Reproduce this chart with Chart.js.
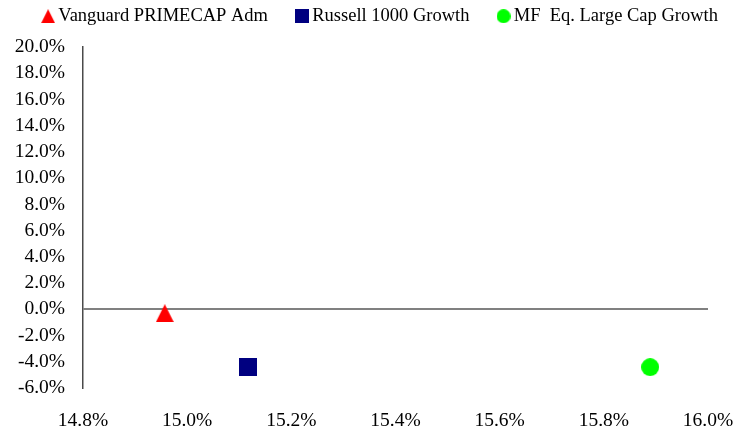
<!DOCTYPE html>
<html>
<head>
<meta charset="utf-8">
<script src="https://cdn.jsdelivr.net/npm/chart.js@4/dist/chart.umd.min.js"></script>
<style>
  html, body { margin: 0; padding: 0; background: #ffffff; }
  #wrap { width: 752px; height: 430px; }
</style>
</head>
<body>
<div id="wrap"><canvas id="chart" width="752" height="430"></canvas></div>
<script>
// Risk (x, %) versus return (y, %) for each fund / benchmark
const seriesNames = ['Vanguard PRIMECAP Adm', 'Russell 1000 Growth', 'MF  Eq. Large Cap Growth'];
const riskValues = [14.957, 15.117, 15.889];
const returnValues = [-0.3, -4.37, -4.41];
const seriesColors = ['#ff0000', '#000080', '#00ff00'];
const markerShapes = ['triangle', 'square', 'circle'];

// axis ranges: [min, max, step]
const xRange = [14.8, 16.0, 0.2];
const yRange = [-6, 20, 2];

const FONT = 'Liberation Serif, Times New Roman, serif';

// Build a marker sprite of a given size
function makeMarker(shape, color, size) {
  const c = document.createElement('canvas');
  c.width = size; c.height = size;
  const g = c.getContext('2d');
  g.fillStyle = color;
  g.beginPath();
  if (shape === 'triangle') {
    g.moveTo(size / 2, 0);
    g.lineTo(size, size);
    g.lineTo(0, size);
    g.closePath();
  } else if (shape === 'square') {
    g.rect(0, 0, size, size);
  } else {
    g.arc(size / 2, size / 2, size / 2, 0, Math.PI * 2);
  }
  g.fill();
  return c;
}

const plotMarkers = markerShapes.map((s, i) => makeMarker(s, seriesColors[i], 18));
const legendMarkers = markerShapes.map((s, i) => makeMarker(s, seriesColors[i], 14));

const datasets = seriesNames.map((name, i) => ({
  label: name,
  data: [{ x: riskValues[i], y: returnValues[i] }],
  pointStyle: plotMarkers[i],
  pointRadius: 9,
  backgroundColor: seriesColors[i],
  borderColor: seriesColors[i],
  showLine: false
}));

// Legend band: fixed height above the plot, row shifted slightly right
const legendBand = {
  id: 'legendBand',
  afterInit(chart) {
    const lg = chart.legend;
    if (!lg) return;
    const fit = lg.fit;
    lg.fit = function () {
      fit.call(this);
      this.height = 73;
    };
  },
  afterLayout(chart) {
    const lg = chart.legend;
    if (!lg) return;
    lg.left = 13;
    lg.right = chart.width;
  }
};

new Chart(document.getElementById('chart'), {
  type: 'scatter',
  data: { datasets },
  plugins: [legendBand],
  options: {
    responsive: false,
    devicePixelRatio: 1,
    animation: false,
    layout: { padding: { top: -26, left: 0, right: 0, bottom: 0 } },
    plugins: {
      tooltip: { enabled: false },
      legend: {
        position: 'top',
        align: 'center',
        labels: {
          usePointStyle: true,
          pointStyleWidth: 2,
          padding: 33,
          color: '#000000',
          font: { family: FONT, size: 18.5 },
          generateLabels(chart) {
            const items = Chart.defaults.plugins.legend.labels.generateLabels(chart);
            items.forEach((it) => { it.pointStyle = legendMarkers[it.datasetIndex]; });
            return items;
          }
        }
      }
    },
    scales: {
      x: {
        type: 'linear',
        position: 'bottom',
        min: xRange[0],
        max: xRange[1],
        afterFit(scale) { scale.height = 42; scale.paddingRight = 44; },
        ticks: {
          stepSize: xRange[2],
          autoSkip: false,
          padding: 21,
          color: '#000000',
          font: { family: FONT, size: 19.5 },
          maxRotation: 0,
          callback: (v) => Number(v).toFixed(1) + '%'
        },
        grid: { display: false, drawTicks: false },
        border: { display: false }
      },
      y: {
        type: 'linear',
        min: yRange[0],
        max: yRange[1],
        afterFit(scale) { scale.width = 83; },
        ticks: {
          stepSize: yRange[2],
          autoSkip: false,
          padding: 18,
          color: '#000000',
          font: { family: FONT, size: 19.5 },
          callback: (v) => Number(v).toFixed(1) + '%'
        },
        grid: {
          drawTicks: false,
          lineWidth: 2,
          color: (ctx) => (ctx.tick && Math.abs(ctx.tick.value) < 1e-9) ? '#808080' : 'rgba(0,0,0,0)'
        },
        border: { display: true, color: '#4a4a4a', width: 1.5 }
      }
    }
  }
});
</script>
</body>
</html>
